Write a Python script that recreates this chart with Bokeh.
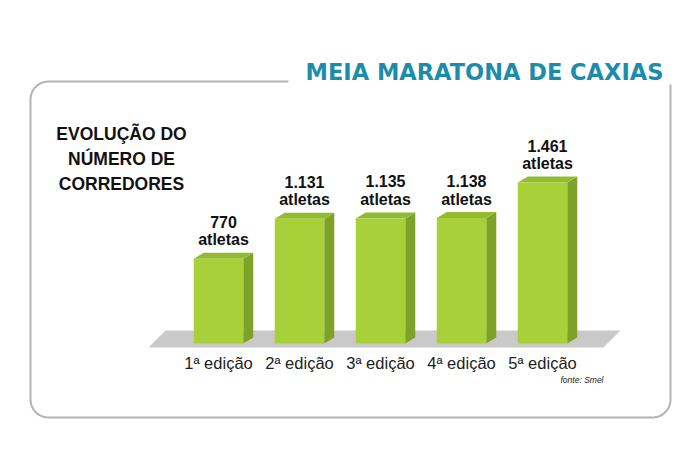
import numpy as np
from bokeh.plotting import figure
from bokeh.models import Range1d, ColumnDataSource
from bokeh.core.properties import value
from bokeh.embed import file_html
from bokeh.resources import INLINE

# ---- data ----
categories = ["1ª edição", "2ª edição", "3ª edição", "4ª edição", "5ª edição"]
athletes = [770, 1131, 1135, 1138, 1461]
title = "MEIA MARATONA DE CAXIAS"
heading = ["EVOLUÇÃO DO", "NÚMERO DE", "CORREDORES"]
unit_label = "atletas"
source_note = "fonte: Smel"

# ---- layout constants (reference pixel space, page coords) ----
W, H = 700, 466
OFF = 0
BASE_PX = 343          # page y of bar base
TOP_PX = 182           # page y of tallest bar
FIRST_PX = 218         # page x of first bar centre
STEP_PX = 81           # px between bars
k = (BASE_PX - TOP_PX) / max(athletes)   # px per athlete

idx = np.arange(len(categories))
vals = np.array(athletes, dtype=float)

x_start = -(FIRST_PX - OFF) / STEP_PX
x_end = x_start + W / STEP_PX
y_top = (BASE_PX - OFF) / k
y_bot = -(OFF + H - BASE_PX) / k

p = figure(width=W, height=H, output_backend="svg", toolbar_location=None,
           x_range=Range1d(x_start, x_end), y_range=Range1d(y_bot, y_top),
           min_border=0, outline_line_color=None)
p.xaxis.visible = False
p.yaxis.visible = False
p.grid.visible = False
p.background_fill_color = "white"
p.border_fill_color = "white"
p.extra_x_ranges = {"px": Range1d(OFF, OFF + W)}
p.extra_y_ranges = {"px": Range1d(OFF + H, OFF)}

# ---- frame (rounded box with gap for the title) ----
r = 18
L, R, T, B = 30, 670, 81, 417
def arc(cx, cy, a0, a1):
    t = np.radians(np.linspace(a0, a1, 12))
    return list(cx + r * np.cos(t)), list(cy - r * np.sin(t))
fx, fy = [288], [T]
ax_, ay_ = arc(L + r, T + r, 90, 180); fx += ax_; fy += ay_
ax_, ay_ = arc(L + r, B - r, 180, 270); fx += ax_; fy += ay_
ax_, ay_ = arc(R - r, B - r, 270, 360); fx += ax_; fy += ay_
fx += [R]; fy += [84]
p.line(fx, fy, line_color="#b3b3b3", line_width=2,
       x_range_name="px", y_range_name="px")

# ---- title ----
p.text(x=[305], y=[71], text=[title], text_font=value("DejaVu Sans"),
       text_font_style="bold", text_font_size="22.5px", text_color="#1b8dab",
       text_baseline="middle", text_align="left",
       x_range_name="px", y_range_name="px")

# ---- heading ----
p.text(x=[121] * 3, y=[133, 158, 183], text=heading,
       text_font=value("Liberation Sans"), text_font_style="bold",
       text_font_size="17.5px", text_color="#111111",
       text_baseline="middle", text_align="center",
       x_range_name="px", y_range_name="px")

# ---- floor ----
p.patch([148, 165, 620, 603], [347, 330, 330, 347], fill_color="#c9c9c9",
        line_color=None, x_range_name="px", y_range_name="px")

# ---- 3D bars ----
bw = 49.5 / STEP_PX
dx = 10 / STEP_PX
dy = 6 / k
xl = idx - bw / 2
xr = idx + bw / 2

side_xs = [[a, a + dx, a + dx, a] for a in xr]
side_ys = [[0, dy, v + dy, v] for v in vals]
p.patches(side_xs, side_ys, fill_color="#7ea12a", line_color=None)

top_xs = [[a, a + dx, b + dx, b] for a, b in zip(xl, xr)]
top_ys = [[v, v + dy, v + dy, v] for v in vals]
p.patches(top_xs, top_ys, fill_color="#93bb30", line_color=None)

src = ColumnDataSource(dict(x=idx, top=vals, cat=categories,
                            num=[f"{v:,}".replace(",", ".") for v in athletes],
                            unit=[unit_label] * len(athletes)))
p.vbar(x="x", top="top", bottom=0, width=bw, source=src,
       fill_color="#a8d038", line_color=None)

# ---- value labels ----
p.text(x="x", y="top", text="num", source=src, x_offset=5, y_offset=-37,
       text_font=value("Liberation Sans"), text_font_style="bold",
       text_font_size="16px", text_color="#111111",
       text_baseline="middle", text_align="center")
p.text(x="x", y="top", text="unit", source=src, x_offset=5, y_offset=-19,
       text_font=value("Liberation Sans"), text_font_style="bold",
       text_font_size="16px", text_color="#111111",
       text_baseline="middle", text_align="center")

# ---- category labels ----
p.text(x="x", y=0, text="cat", source=src, x_offset=0, y_offset=19,
       text_font=value("Liberation Sans"), text_font_size="16.5px",
       text_color="#222222", text_baseline="middle", text_align="center")

# ---- source note ----
p.text(x=[603], y=[379], text=[source_note], text_font=value("Liberation Sans"),
       text_font_style="italic", text_font_size="8.5px", text_color="#222222",
       text_baseline="middle", text_align="right",
       x_range_name="px", y_range_name="px")

open("out.html", "w").write(file_html(p, INLINE))
